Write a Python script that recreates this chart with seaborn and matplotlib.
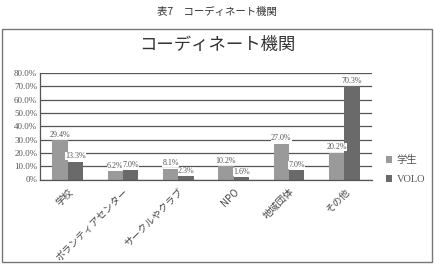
import matplotlib
matplotlib.use("Agg")
import matplotlib.pyplot as plt
import seaborn as sns
import pandas as pd
from matplotlib.patches import Rectangle

# data
categories = ["学校", "ボランティアセンター", "サークルやクラブ", "NPO", "地域団体", "その他"]
gakusei = [29.4, 6.2, 8.1, 10.2, 27.0, 20.2]
volo = [13.3, 7.0, 2.3, 1.6, 7.0, 70.3]
series = ["学生", "VOLO"]
yticks = [0, 10, 20, 30, 40, 50, 60, 70, 80]

df = pd.DataFrame({
    "cat": categories * 2,
    "series": [series[0]] * len(categories) + [series[1]] * len(categories),
    "value": gakusei + volo,
})

sns.set_theme(style="white")
plt.rcParams["font.family"] = ["Liberation Serif", "Noto Sans CJK JP", "DejaVu Sans"]

fig = plt.figure(figsize=(4.34, 2.66), dpi=100)
ax = fig.add_axes([40 / 434, 1 - 179.5 / 266, (372 - 40) / 434, (179.5 - 73) / 266])

sns.barplot(data=df, x="cat", y="value", hue="series", ax=ax,
            palette=["#9a9a9a", "#6a6a6a"], width=0.56, saturation=1,
            edgecolor="none", legend=True)

ax.set_ylim(0, 80)
ax.set_yticks(yticks)
ax.set_yticklabels([f"{v}.0%" if v else "0%" for v in yticks],
                   fontsize=6.5, color="#555555")
ax.yaxis.grid(True, color="#555555", linewidth=0.9)
ax.set_axisbelow(True)
ax.set_xlabel("")
ax.set_ylabel("")
ax.tick_params(axis="y", length=0, pad=2)
ax.tick_params(axis="x", length=0, pad=5)
ax.set_xticks(range(len(categories)))
ax.set_xticklabels(categories, rotation=45, ha="right", va="top",
                   rotation_mode="anchor",
                   fontsize=7, color="#444444", family=["Noto Sans CJK JP"])
for s in ["top", "right"]:
    ax.spines[s].set_visible(False)
for s in ["left", "bottom"]:
    ax.spines[s].set_color("#555555")
    ax.spines[s].set_linewidth(0.9)

for cont in ax.containers:
    labels = [f"{v:.1f}%" for v in cont.datavalues]
    ax.bar_label(cont, labels=labels, padding=1, fontsize=5.8, color="#555555",
                 bbox=dict(facecolor="white", edgecolor="none", pad=0))

leg = ax.legend(loc="upper left", bbox_to_anchor=(1.03, 0.27), frameon=False,
                fontsize=7.5, handlelength=0.6, handleheight=0.6, handletextpad=0.4,
                labelspacing=1.0, borderaxespad=0)
for t in leg.get_texts():
    t.set_color("#555555")
    t.set_family(["Liberation Serif", "Noto Sans CJK JP"])

# outer frame and titles
fig.patches.append(Rectangle((2 / 434, 4 / 266), 430 / 434, 233 / 266,
                             transform=fig.transFigure, fill=False,
                             edgecolor="#777777", linewidth=1.0))
fig.text(0.5, 1 - 12 / 266, "表7　コーディネート機関", ha="center", va="center",
         fontsize=7.5, family=["Noto Sans CJK JP"], color="#333333")
fig.text(0.5, 1 - 45 / 266, "コーディネート機関", ha="center", va="center",
         fontsize=12.5, family=["Noto Sans CJK JP"], color="#333333")

fig.savefig("out.png", dpi=100, facecolor="white")
